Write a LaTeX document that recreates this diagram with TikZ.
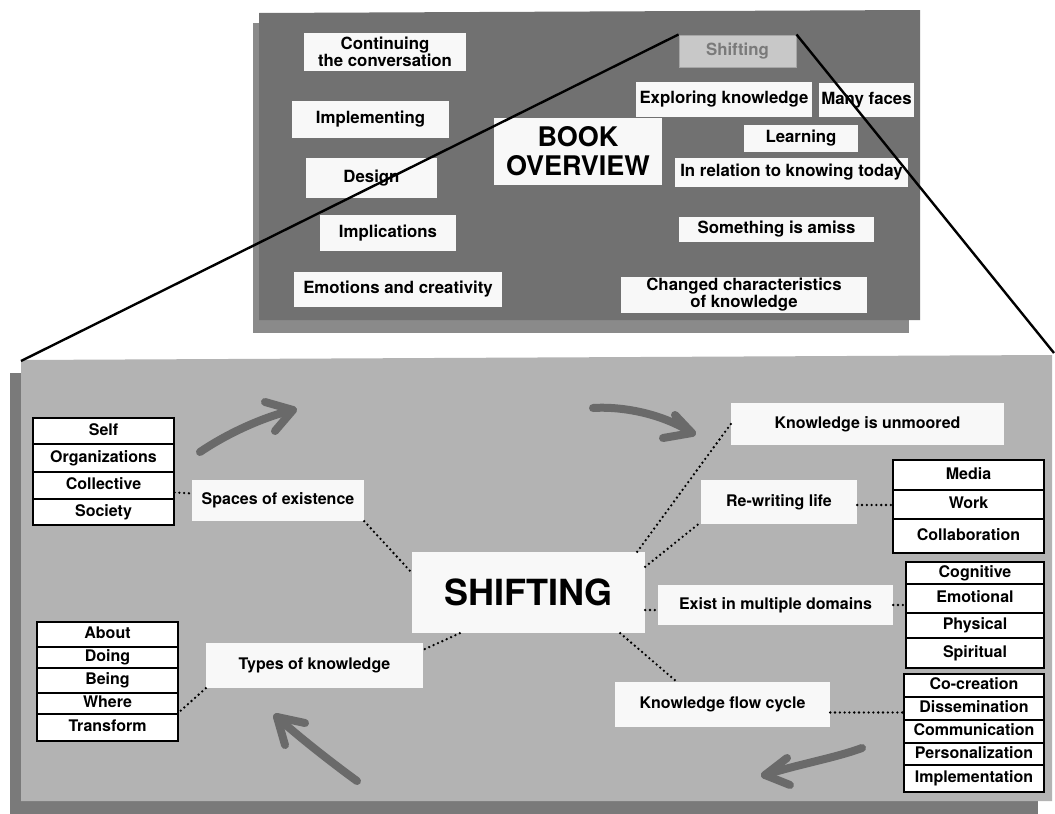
\documentclass[tikz,border=0pt]{standalone}
\usepackage{fontspec}
\setmainfont{TeX Gyre Heros}
\usetikzlibrary{calc}

\definecolor{topmain}{HTML}{717171}
\definecolor{topshadow}{HTML}{8A8A8A}
\definecolor{lowmain}{HTML}{B3B3B3}
\definecolor{lowshadow}{HTML}{7A7A7A}
\definecolor{arrowgray}{HTML}{6A6A6A}
\definecolor{cardwhite}{HTML}{F8F8F8}
\definecolor{btnfill}{HTML}{C8C8C8}
\definecolor{btnedge}{HTML}{A6A6A6}
\definecolor{btntext}{HTML}{7A7A7A}

\newcommand\tpfont{\fontsize{16.8}{17.5}\selectfont\bfseries}
\newcommand\btfont{\fontsize{16}{18}\selectfont\bfseries}

\begin{document}
\begin{tikzpicture}[x=1pt,y=-1pt,
  card/.style={fill=cardwhite, inner sep=0pt, align=center, font=\tpfont},
  label/.style={fill=cardwhite, inner sep=0pt, align=center, font=\btfont},
  cell/.style={draw=black, line width=1.1pt, fill=white, inner sep=0pt,
    font=\btfont, text height=11.5pt, text depth=3pt},
  dotline/.style={line width=2.6pt, line cap=round, dash pattern=on 0pt off 4.8pt},
  bigarrow/.style={draw=arrowgray, line width=8pt, line cap=round, line join=round},
  zoomline/.style={line width=2.4pt, black}]

\useasboundingbox (0,0) rectangle (1055,814);
\fill[white] (0,0) rectangle (1055,814);

% ---------- upper board: book overview ----------
\fill[topshadow] (253,23) rectangle (909,333);
\fill[topmain] (259,13) -- (920,10) -- (920,320) -- (259,320) -- cycle;

\node[card, minimum width=162pt, minimum height=38pt] (cont) at (385,52) {Continuing\\the conversation};
\node[card, minimum width=157pt, minimum height=37pt] (impl) at (370.5,119.5) {Implementing};
\node[card, minimum width=131pt, minimum height=40pt] (design) at (371.5,178) {Design};
\node[card, minimum width=136pt, minimum height=36pt] (implic) at (388,233) {Implications};
\node[card, minimum width=208pt, minimum height=35pt] (emo) at (398,289.5) {Emotions and creativity};
\node[card, minimum width=168pt, minimum height=67pt,
  font=\fontsize{27}{29}\selectfont\bfseries] (book) at (578,151.5) {BOOK\\OVERVIEW};

\node[fill=btnfill, draw=btnedge, line width=1pt, inner sep=0pt,
  minimum width=117pt, minimum height=32pt, font=\tpfont, text=btntext] (shiftbtn) at (737.5,51) {Shifting};
\node[card, minimum width=176pt, minimum height=35pt] (explore) at (724,99.5) {Exploring knowledge};
\node[card, minimum width=95pt, minimum height=34pt] (faces) at (866.5,100) {Many faces};
\node[card, minimum width=114pt, minimum height=27pt] (learn) at (801,138.5) {Learning};
\node[card, minimum width=233pt, minimum height=29pt] (relation) at (791.5,172.5) {In relation to knowing today};
\node[card, minimum width=195pt, minimum height=25pt] (amiss) at (776.5,229.5) {Something is amiss};
\node[card, minimum width=246pt, minimum height=36pt,
  font=\fontsize{16.8}{17}\selectfont\bfseries] (changed) at (744,295) {Changed characteristics\\of knowledge};

% ---------- lower board: shifting ----------
\fill[lowshadow] (10,373) rectangle (1038,814);
\fill[lowmain] (21,360) -- (1052,355) -- (1052,801) -- (21,801) -- cycle;

\coordinate (bl) at (21,361);
\coordinate (br) at (1054,353);

% cycle arrows
\draw[bigarrow] (200,452) .. controls (225,435) and (260,418) .. (293,410);
\draw[bigarrow] (265,402) -- (293,410) -- (275,431);
\draw[bigarrow] (593,408) .. controls (625,406) and (665,415) .. (692,433);
\draw[bigarrow] (675,415) -- (692,433) -- (663,438);
\draw[bigarrow] (862,748) .. controls (835,758) and (795,765) .. (765,775);
\draw[bigarrow] (787,758) -- (765,775) -- (790,785);
\draw[bigarrow] (357,781) .. controls (335,765) and (300,738) .. (277,717);
\draw[bigarrow] (305,723) -- (277,717) -- (285,745);

% topic cards
\node[label, minimum width=233pt, minimum height=81pt,
  font=\fontsize{36}{40}\selectfont\bfseries] (shift) at (528.5,592.5) {SHIFTING};
\node[label, minimum width=172pt, minimum height=41pt] (spaces) at (278,500.5) {Spaces of existence};
\node[label, minimum width=217pt, minimum height=45pt] (types) at (314.5,665.5) {Types of knowledge};
\node[label, minimum width=273pt, minimum height=42pt] (unmoored) at (867.5,424) {Knowledge is unmoored};
\node[label, minimum width=156pt, minimum height=44pt] (rewriting) at (779,502) {Re-writing life};
\node[label, minimum width=235pt, minimum height=40pt] (exist) at (775.5,605) {Exist in multiple domains};
\node[label, minimum width=215pt, minimum height=45pt] (flow) at (722.5,704.5) {Knowledge flow cycle};

% spaces of existence
\node[cell, minimum width=141pt, minimum height=26pt] (self) at (103.5,431) {Self};
\node[cell, minimum width=141pt, minimum height=28pt] (orgs) at (103.5,458) {Organizations};
\node[cell, minimum width=141pt, minimum height=27pt] (collective) at (103.5,485.5) {Collective};
\node[cell, minimum width=141pt, minimum height=26pt] (society) at (103.5,512) {Society};

% types of knowledge
\node[cell, minimum width=141pt, minimum height=25pt] (about) at (107.5,634.5) {About};
\node[cell, minimum width=141pt, minimum height=21pt] (doing) at (107.5,657.5) {Doing};
\node[cell, minimum width=141pt, minimum height=25pt] (being) at (107.5,680.5) {Being};
\node[cell, minimum width=141pt, minimum height=21pt] (where) at (107.5,703.5) {Where};
\node[cell, minimum width=141pt, minimum height=27pt] (transform) at (107.5,727.5) {Transform};

% re-writing life
\node[cell, minimum width=151pt, minimum height=30pt] (media) at (968.5,475) {Media};
\node[cell, minimum width=151pt, minimum height=29pt] (work) at (968.5,504.5) {Work};
\node[cell, minimum width=151pt, minimum height=34pt] (collab) at (968.5,536) {Collaboration};

% domains
\node[cell, minimum width=138pt, minimum height=22pt] (cognitive) at (975,573) {Cognitive};
\node[cell, minimum width=138pt, minimum height=29pt] (emotional) at (975,598.5) {Emotional};
\node[cell, minimum width=138pt, minimum height=25pt] (physical) at (975,625.5) {Physical};
\node[cell, minimum width=138pt, minimum height=30pt] (spiritual) at (975,653) {Spiritual};

% flow cycle
\node[cell, minimum width=140pt, minimum height=23pt] (cocreation) at (974,685.5) {Co-creation};
\node[cell, minimum width=140pt, minimum height=23pt] (dissem) at (974,708.5) {Dissemination};
\node[cell, minimum width=140pt, minimum height=23pt] (commun) at (974,731.5) {Communication};
\node[cell, minimum width=140pt, minimum height=22pt] (personal) at (974,754) {Personalization};
\node[cell, minimum width=140pt, minimum height=27pt] (implem) at (974,778.5) {Implementation};

% dotted links
\coordinate (rwout) at ($(rewriting.east)+(0,3)$);
\coordinate (flowout) at ($(flow.east)+(0,8)$);
\draw[dotline] ($(collective.east)+(0,7)$) -- ($(spaces.west)+(0,-7)$);
\draw[dotline] (spaces.south east) -- ($(shift.north west)+(0,21)$);
\draw[dotline] ($(shift.north east)+(-8,0)$) -- (unmoored.west);
\draw[dotline] ($(shift.north east)+(0,15)$) -- ($(rewriting.south west)+(0,-2)$);
\draw[dotline] ($(shift.east)+(0,17.5)$) -- ($(exist.west)+(0,5)$);
\draw[dotline] ($(shift.south east)+(-25,0)$) -- ($(flow.north west)+(62,0)$);
\draw[dotline] ($(shift.south west)+(48,0)$) -- ($(types.north east)+(0,7)$);
\draw[dotline] (types.south west) -- ($(where.south east)+(0,-2)$);
\draw[dotline] (rwout) -- (rwout -| work.west);
\draw[dotline] (exist.east) -- (exist.east -| emotional.west);
\draw[dotline] (flowout) -- (flowout -| dissem.west);

% zoom lines from the Shifting button to the lower board
\draw[zoomline] (shiftbtn.north west) -- (bl);
\draw[zoomline] (shiftbtn.north east) -- (br);

\end{tikzpicture}
\end{document}
